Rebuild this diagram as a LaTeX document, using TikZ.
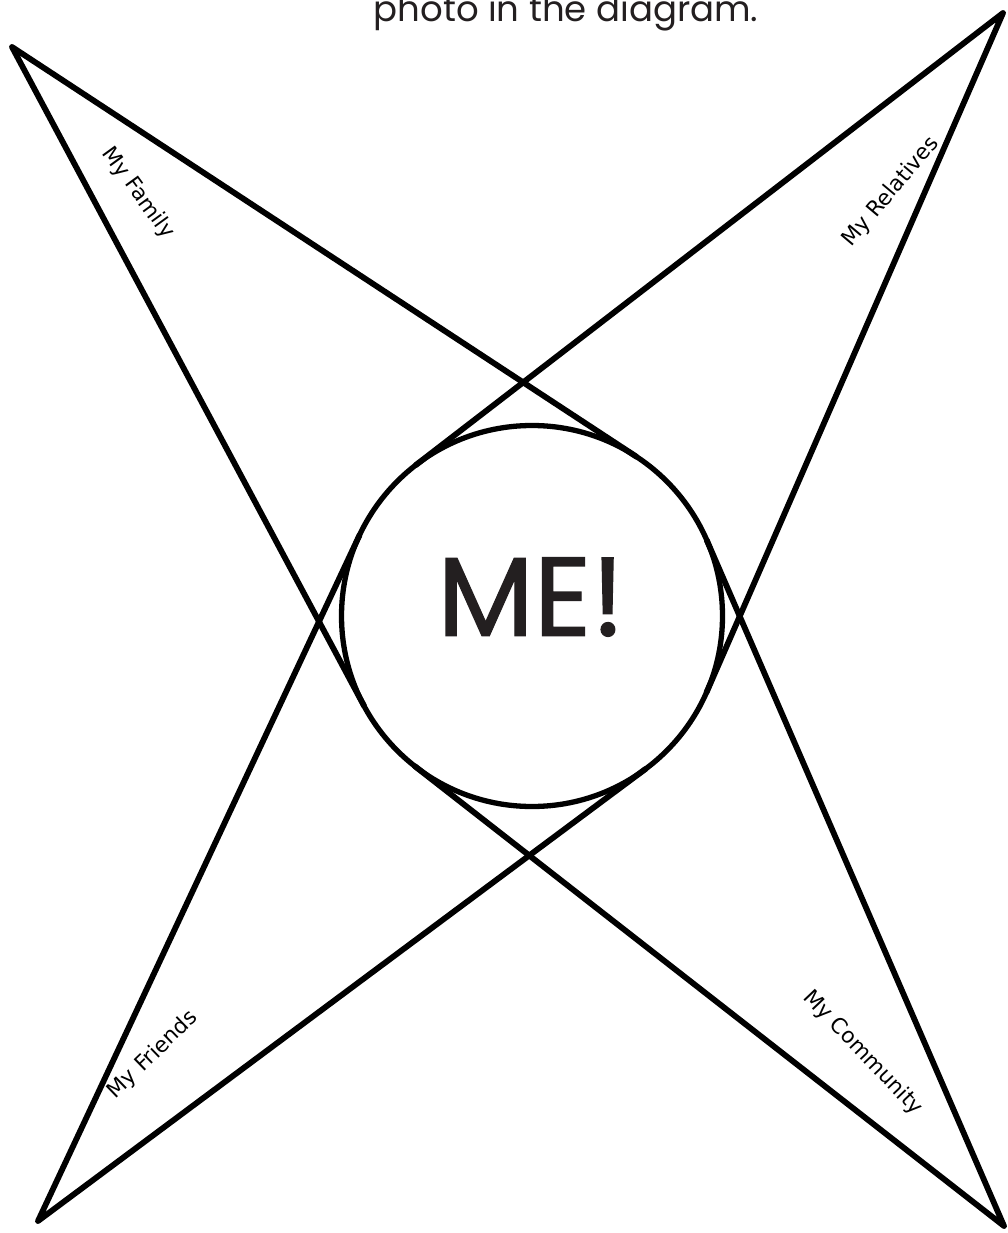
\documentclass[tikz,border=0pt]{standalone}
\usepackage{fontspec}
\usepackage{tikz}
\usetikzlibrary{calc}
\setmainfont{DejaVu Sans}
\newfontfamily\mefont{Poppins}
\newfontfamily\mefontheavy{Poppins}[FakeBold=1.2]
\definecolor{inkgray}{HTML}{231f20}

\begin{document}
\begin{tikzpicture}[
    x=1pt, y=-1pt,
    spike/.style={
        draw=black, line width=5.8pt, line join=round, line cap=round,
    },
    centre/.style={
        circle, draw=black, line width=5.3pt, minimum size=381pt,
        inner sep=0pt, outer sep=0pt,
    },
    armtext/.style={
        font=\fontsize{21.5}{24}\selectfont, text=black, inner sep=0pt,
    },
    metext/.style={
        font=\mefontheavy\fontsize{112}{120}\selectfont, text=inkgray, inner sep=0pt,
    },
    captext/.style={
        font=\mefont\fontsize{35.5}{40}\selectfont, text=inkgray, inner sep=0pt,
    },
]

% ── Page ────────────────────────────────────────────────────────────────────
\clip (0,0) rectangle (1008,1233);
\fill[white] (0,0) rectangle (1008,1233);

\node[captext, anchor=base] (caption) at (566,22) {photo in the diagram.};

% ── Centre circle ───────────────────────────────────────────────────────────
\node[centre] (me) at (532,616) {};
\node[metext] (metxt) at (531,597) {ME!};

% ── Spike tips ──────────────────────────────────────────────────────────────
\coordinate (famtip) at (12,47);
\coordinate (reltip) at (1003,13);
\coordinate (fritip) at (38,1221);
\coordinate (comtip) at (1004,1226);

% ── Spikes: two tangents from each tip ─────────────────────────────────────
\draw[spike] (tangent cs:node=me,point={(famtip)},solution=1)
    -- (famtip) -- (tangent cs:node=me,point={(famtip)},solution=2);
\draw[spike] (tangent cs:node=me,point={(reltip)},solution=1)
    -- (reltip) -- (tangent cs:node=me,point={(reltip)},solution=2);
\draw[spike] (tangent cs:node=me,point={(fritip)},solution=1)
    -- (fritip) -- (tangent cs:node=me,point={(fritip)},solution=2);
\draw[spike] (tangent cs:node=me,point={(comtip)},solution=1)
    -- (comtip) -- (tangent cs:node=me,point={(comtip)},solution=2);

% ── Spike labels ────────────────────────────────────────────────────────────
\node[armtext, rotate=-54]   (fam) at (138,193)  {My Family};
\node[armtext, rotate=50]    (rel) at (891,192)  {My Relatives};
\node[armtext, rotate=44]    (fri) at (153,1055) {My Friends};
\node[armtext, rotate=-46.5] (com) at (863,1053) {My Community};

\end{tikzpicture}
\end{document}
